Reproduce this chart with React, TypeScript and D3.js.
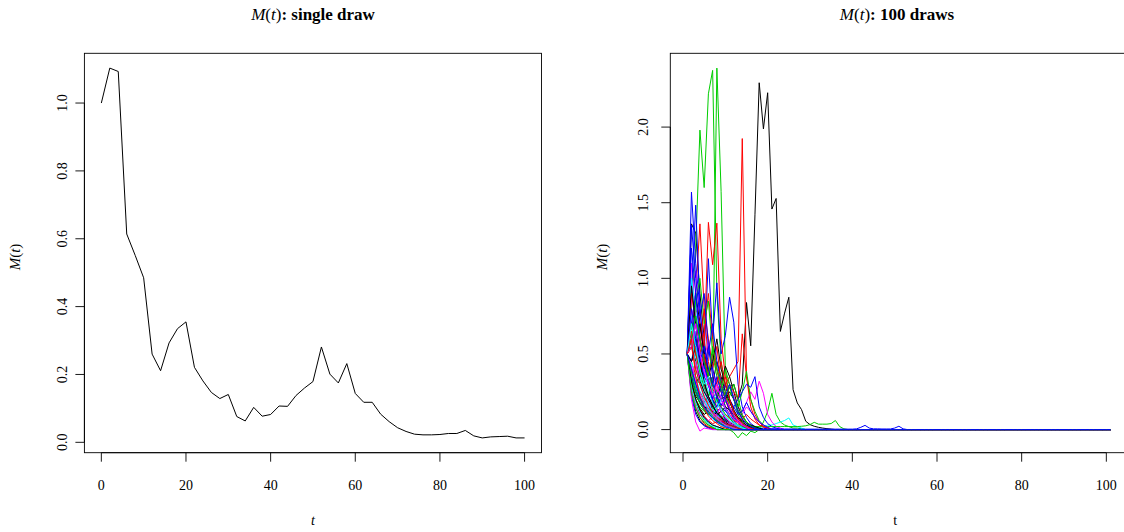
import React from "react";
import * as d3 from "d3";

// ---------- data: single draw (t = 0,2,...,100) ----------
const singleT = d3.range(0, 101, 2);
const singleM = [
  1.0, 1.103, 1.093, 0.614, 0.551, 0.485, 0.26, 0.211, 0.293, 0.335, 0.355,
  0.221, 0.181, 0.147, 0.129, 0.141, 0.076, 0.063, 0.103, 0.077, 0.082,
  0.107, 0.106, 0.138, 0.16, 0.179, 0.281, 0.201, 0.175, 0.232, 0.144,
  0.118, 0.118, 0.083, 0.061, 0.043, 0.032, 0.024, 0.022, 0.022, 0.023,
  0.026, 0.026, 0.035, 0.019, 0.013, 0.016, 0.017, 0.018, 0.013, 0.013,
];

// ---------- data: draws (t = 1..101), values listed until they settle at 0 ----------
const drawT = d3.range(1, 102);
const drawColors = ["#000000", "#FF0000", "#00CD00", "#0000FF", "#00FFFF", "#FF00FF"];

const draws: number[][] = [
  // group 1
  [0.5, 1.36, 1.3, 0.9, 0.6, 0.35, 0.2, 0.12, 0.07, 0.04, 0.02, 0.01],
  [0.5, 0.7, 0.9, 1.36, 0.8, 0.45, 0.25, 0.14, 0.08, 0.04, 0.02, 0.01],
  [0.5, 0.8, 1.2, 1.98, 1.6, 2.22, 2.375, 0.9, 0.45, 0.25, 0.15, 0.09, 0.05, 0.03, 0.015],
  [0.5, 1.57, 1.1, 0.8, 0.5, 0.3, 0.18, 0.1, 0.06, 0.03, 0.015],
  [0.5, 0.97, 0.7, 0.45, 0.28, 0.17, 0.1, 0.06, 0.03, 0.015],
  [0.5, 1.1, 0.75, 0.5, 0.3, 0.2, 0.12, 0.06, 0.03, 0.015],
  // group 2
  [0.5, 0.35, 0.25, 0.2, 0.18, 0.22, 0.3, 0.25, 0.2, 0.22, 0.28, 0.3, 0.2, 0.3, 0.84, 0.554, 1.42, 2.293, 1.988, 2.227, 1.458, 1.528, 0.649, 0.77, 0.875, 0.264, 0.176, 0.132, 0.055, 0.033, 0.022, 0.015, 0.01, 0.006, 0.003],
  [0.5, 0.4, 0.35, 0.3, 0.28, 0.3, 0.35, 0.3, 0.25, 0.3, 0.35, 0.4, 0.45, 1.924, 0.35, 0.15, 0.07, 0.03, 0.015],
  [0.5, 0.6, 0.5, 0.45, 0.4, 0.35, 0.3, 2.39, 1.575, 0.4, 0.2, 0.1, 0.05, 0.025, 0.01],
  [0.5, 0.9, 1.484, 0.8, 0.5, 1.13, 0.6, 0.97, 0.5, 0.62, 0.875, 0.71, 0.3, 0.15, 0.08, 0.04, 0.02, 0.01],
  [0.5, 0.75, 0.55, 0.35, 0.22, 0.14, 0.08, 0.05, 0.03, 0.015],
  [0.5, 0.85, 1.05, 0.7, 0.45, 0.6, 0.4, 0.25, 0.15, 0.08, 0.04, 0.02, 0.01],
  // group 3
  [0.5, 0.6, 0.9, 0.7, 0.5, 0.4, 0.3, 0.45, 0.35, 0.25, 0.18, 0.12, 0.07, 0.04, 0.02, 0.01],
  [0.5, 0.6, 0.8, 0.7, 0.55, 1.37, 1.09, 1.365, 0.6, 0.35, 0.2, 0.12, 0.07, 0.04, 0.02, 0.01],
  [0.5, 0.3, 0.2, 0.15, 0.12, 0.1, 0.08, 0.06, 0.04, 0.02, 0.0, -0.02, -0.055, -0.02, -0.04, -0.01, -0.02, 0.0, 0.05, 0.12, 0.24, 0.1, 0.05, 0.03, 0.02, 0.01, 0.01, 0.005],
  [0.5, 1.2, 0.9, 0.6, 0.4, 0.55, 0.35, 0.2, 0.12, 0.07, 0.04, 0.02, 0.01],
  [0.5, 0.55, 0.65, 0.45, 0.3, 0.2, 0.14, 0.1, 0.08, 0.06, 0.04, 0.05, 0.07, 0.04, 0.03, 0.02, 0.02, 0.015, 0.02, 0.03, 0.03, 0.04, 0.05, 0.06, 0.077, 0.03, 0.02, 0.01],
  [0.5, 0.4, 0.3, 0.22, 0.15, 0.1, 0.12, 0.15, 0.2, 0.25, 0.3, 0.22, 0.15, 0.12, 0.18, 0.25, 0.2, 0.32, 0.24, 0.1, 0.05, 0.02, 0.01],
  // group 4
  [0.5, 0.3, 0.2, 0.14, 0.1, 0.12, 0.16, 0.2, 0.3, 0.42, 0.35, 0.25, 0.15, 0.09, 0.05, 0.03, 0.015],
  [0.5, 0.4, 0.3, 0.25, 0.2, 0.18, 0.2, 0.25, 0.3, 0.35, 0.3, 0.25, 0.2, 0.633, 0.35, 0.2, 0.1, 0.05, 0.02, 0.01],
  [0.5, 0.45, 0.35, 0.3, 0.35, 0.4, 0.3, 0.25, 0.2, 0.25, 0.3, 0.2, 0.15, 0.25, 0.385, 0.2, 0.12, 0.06, 0.03, 0.015],
  [0.5, 0.35, 0.25, 0.2, 0.15, 0.12, 0.1, 0.12, 0.15, 0.12, 0.1, 0.15, 0.2, 0.25, 0.3, 0.28, 0.35, 0.15, 0.08, 0.04, 0.02, 0.01],
  [0.5, 0.6, 0.5, 0.35, 0.25, 0.18, 0.12, 0.08, 0.05, 0.03, 0.02, 0.01],
  [0.5, 0.3, 0.2, 0.12, 0.08, 0.05, 0.03, 0.02, 0.01],
  // group 5
  [0.5, 0.25, 0.12, 0.06, 0.03, 0.015, 0.008],
  [0.5, 0.28, 0.15, 0.08, 0.04, 0.02, 0.01],
  [0.5, 0.3, 0.18, 0.1, 0.06, 0.03, 0.015],
  [0.5, 0.22, 0.1, 0.05, 0.025, 0.01],
  [0.5, 0.32, 0.2, 0.12, 0.07, 0.04, 0.02, 0.01],
  [0.5, 0.2, 0.05, -0.01, 0.01, 0.005],
  // group 6
  [0.5, 0.7, 0.55, 0.4, 0.3, 0.22, 0.16, 0.12, 0.09, 0.07, 0.05, 0.03, 0.02, 0.01],
  [0.5, 0.45, 0.5, 0.6, 0.45, 0.35, 0.5, 0.4, 0.3, 0.22, 0.15, 0.1, 0.06, 0.03, 0.02, 0.01],
  [0.5, 0.4, 0.3, 0.22, 0.16, 0.12, 0.09, 0.07, 0.05, 0.04, 0.03, 0.025, 0.02, 0.02, 0.02, 0.02, 0.02, 0.02, 0.02, 0.02, 0.02, 0.02, 0.02, 0.02, 0.02, 0.02, 0.02, 0.022, 0.025, 0.033, 0.048, 0.036, 0.036, 0.036, 0.04, 0.06, 0.02, 0.005],
  [0.5, 0.35, 0.25, 0.18, 0.13, 0.1, 0.08, 0.06, 0.05, 0.04, 0.03, 0.025, 0.02, 0.015, 0.012, 0.01, 0.01, 0.008, 0.008, 0.006, 0.006, 0.005, 0.005, 0.004, 0.004, 0.004, 0.003, 0.003, 0.003, 0.003, 0.003, 0.003, 0.003, 0.003, 0.003, 0.003, 0.003, 0.003, 0.003, 0.003, 0.005, 0.015, 0.028, 0.01, 0.005, 0.005, 0.004, 0.004, 0.004, 0.01, 0.022, 0.005],
  [0.5, 1.0, 0.8, 0.5, 0.35, 0.25, 0.18, 0.12, 0.08, 0.05, 0.03, 0.02, 0.01],
  [0.5, 0.6, 0.45, 0.35, 0.4, 0.3, 0.2, 0.25, 0.3, 0.2, 0.13, 0.08, 0.05, 0.03, 0.015],
  // group 7
  [0.5, 0.4, 0.3, 0.35, 0.45, 0.35, 0.25, 0.18, 0.15, 0.2, 0.25, 0.2, 0.12, 0.07, 0.04, 0.02, 0.01],
  [0.5, 0.9, 0.7, 0.5, 0.65, 0.9, 0.6, 0.4, 0.25, 0.15, 0.08, 0.04, 0.02, 0.01],
  [0.5, 0.55, 0.85, 1.0, 0.7, 0.85, 0.5, 0.35, 0.25, 0.4, 0.3, 0.2, 0.1, 0.05, 0.025, 0.01],
  [0.5, 0.7, 0.9, 0.6, 0.45, 0.3, 0.2, 0.35, 0.25, 0.15, 0.1, 0.06, 0.03, 0.015],
  [0.5, 0.45, 0.35, 0.25, 0.18, 0.14, 0.1, 0.08, 0.1, 0.06, 0.04, 0.02, 0.01],
  [0.5, 0.8, 0.6, 0.4, 0.28, 0.2, 0.15, 0.18, 0.12, 0.08, 0.05, 0.04, 0.06, 0.1, 0.15, 0.12, 0.08, 0.05, 0.03, 0.015],
  // group 8
  [0.5, 0.55, 0.45, 0.32, 0.25, 0.2, 0.15, 0.11, 0.08, 0.06, 0.04, 0.03, 0.02, 0.01],
  [0.5, 0.35, 0.4, 0.55, 0.8, 0.6, 0.4, 0.55, 0.3, 0.2, 0.12, 0.07, 0.04, 0.02, 0.01],
  [0.5, 0.7, 0.5, 0.38, 0.28, 0.22, 0.3, 0.22, 0.15, 0.18, 0.22, 0.3, 0.2, 0.1, 0.05, 0.025, 0.012],
  [0.5, 1.35, 1.0, 0.75, 0.9, 0.55, 0.4, 0.3, 0.2, 0.13, 0.08, 0.05, 0.03, 0.015],
  [0.5, 0.4, 0.28, 0.2, 0.15, 0.1, 0.07, 0.05, 0.03, 0.02, 0.01],
  [0.5, 0.35, 0.45, 0.3, 0.22, 0.16, 0.12, 0.09, 0.07, 0.05, 0.04, 0.03, 0.02, 0.01],
  // group 9
  [0.5, 0.3, 0.22, 0.18, 0.15, 0.14, 0.12, 0.1, 0.12, 0.15, 0.13, 0.1, 0.08, 0.06, 0.04, 0.03, 0.02, 0.01],
  [0.5, 0.3, 0.2, 0.13, 0.09, 0.06, 0.04, 0.05, 0.07, 0.1, 0.08, 0.06, 0.05, 0.07, 0.1, 0.07, 0.05, 0.03, 0.02, 0.01],
  [0.5, 0.33, 0.24, 0.17, 0.13, 0.1, 0.14, 0.2, 0.15, 0.1, 0.07, 0.05, 0.03, 0.02, 0.01],
  [0.5, 0.45, 0.6, 0.45, 0.35, 0.3, 0.2, 0.15, 0.22, 0.3, 0.2, 0.15, 0.1, 0.12, 0.18, 0.12, 0.08, 0.05, 0.03, 0.015],
  [0.5, 0.65, 0.4, 0.3, 0.2, 0.14, 0.1, 0.14, 0.2, 0.14, 0.09, 0.05, 0.03, 0.015],
  [0.5, 0.25, 0.15, 0.1, 0.08, 0.06, 0.08, 0.1, 0.15, 0.2, 0.15, 0.1, 0.06, 0.04, 0.02, 0.01],
  // group 10
  [0.5, 0.95, 0.7, 0.45, 0.32, 0.22, 0.16, 0.11, 0.08, 0.05, 0.03, 0.02, 0.01],
  [0.5, 0.55, 0.4, 0.3, 0.22, 0.16, 0.11, 0.08, 0.06, 0.04, 0.03, 0.02, 0.01],
  [0.5, 0.38, 0.27, 0.2, 0.15, 0.11, 0.08, 0.06, 0.04, 0.03, 0.02, 0.01],
  [0.5, 0.6, 0.75, 0.5, 0.35, 0.5, 0.7, 0.45, 0.3, 0.2, 0.13, 0.08, 0.05, 0.03, 0.015],
  [0.5, 0.28, 0.18, 0.12, 0.08, 0.05, 0.03, 0.02, 0.01],
  [0.5, 0.42, 0.32, 0.24, 0.18, 0.13, 0.1, 0.07, 0.05, 0.03, 0.02, 0.01],
  // group 11
  [0.5, 0.45, 0.55, 0.7, 0.5, 0.35, 0.45, 0.6, 0.4, 0.3, 0.2, 0.13, 0.08, 0.05, 0.03, 0.015],
  [0.5, 0.65, 0.5, 0.4, 0.5, 0.35, 0.25, 0.3, 0.45, 0.3, 0.2, 0.12, 0.07, 0.04, 0.02, 0.01],
  [0.5, 0.6, 0.75, 0.6, 0.45, 0.35, 0.55, 0.4, 0.3, 0.22, 0.28, 0.2, 0.13, 0.08, 0.05, 0.025, 0.01],
  [0.5, 0.8, 0.6, 0.45, 0.55, 0.4, 0.3, 0.22, 0.16, 0.22, 0.3, 0.2, 0.12, 0.07, 0.04, 0.02, 0.01],
  [0.5, 0.7, 0.55, 0.4, 0.3, 0.35, 0.25, 0.18, 0.13, 0.09, 0.06, 0.04, 0.02, 0.01],
  [0.5, 0.55, 0.7, 0.5, 0.38, 0.3, 0.22, 0.3, 0.2, 0.14, 0.1, 0.07, 0.05, 0.03, 0.015],
  // group 12
  [0.5, 0.32, 0.2, 0.13, 0.08, 0.05, 0.03, 0.02, 0.01],
  [0.5, 0.6, 0.35, 0.22, 0.14, 0.09, 0.06, 0.04, 0.02, 0.01],
  [0.5, 0.24, 0.14, 0.08, 0.05, 0.03, 0.015],
  [0.5, 0.4, 0.3, 0.21, 0.15, 0.11, 0.08, 0.05, 0.035, 0.02, 0.01],
];

const xTicks = [0, 20, 40, 60, 80, 100];
const leftYTicks = [0, 0.2, 0.4, 0.6, 0.8, 1.0];
const rightYTicks = [0, 0.5, 1.0, 1.5, 2.0];

// ---------- layout ----------
const W = 1124;
const H = 532;
const FONT = "'Liberation Serif', 'DejaVu Serif', serif";
const BOX_TOP = 53.3;
const BOX_BOTTOM = 452.7;

function padDomain(lo: number, hi: number): [number, number] {
  const r = hi - lo;
  return [lo - 0.04 * r, hi + 0.04 * r];
}

function MathM({ x, y, rotate, size }: { x: number; y: number; rotate?: boolean; size: number }) {
  return (
    <text
      x={x}
      y={y}
      fontSize={size}
      fontFamily={FONT}
      textAnchor="middle"
      transform={rotate ? `rotate(-90 ${x} ${y})` : undefined}
    >
      <tspan fontStyle="italic">M</tspan>
      <tspan>(</tspan>
      <tspan fontStyle="italic">t</tspan>
      <tspan>)</tspan>
    </text>
  );
}

type PanelProps = {
  x0: number;
  x1: number;
  xDomain: [number, number];
  yDomain: [number, number];
  yTicks: number[];
  yFmt: (v: number) => string;
  yLabX: number;
  yTitleX: number;
  titleX: number;
  title: string;
  italicT: boolean;
  children: (x: d3.ScaleLinear<number, number>, y: d3.ScaleLinear<number, number>) => React.ReactNode;
};

function Panel(p: PanelProps) {
  const x = d3.scaleLinear().domain(p.xDomain).range([p.x0, p.x1]);
  const y = d3.scaleLinear().domain(p.yDomain).range([BOX_BOTTOM, BOX_TOP]);
  const tickLen = 9;
  return (
    <g>
      {/* title */}
      <text x={p.titleX} y={20} fontSize={17} fontFamily={FONT} textAnchor="middle" fontWeight="bold">
        <tspan fontStyle="italic" fontWeight="normal">M</tspan>
        <tspan fontWeight="normal">(</tspan>
        <tspan fontStyle="italic" fontWeight="normal">t</tspan>
        <tspan fontWeight="normal">)</tspan>
        <tspan>{": " + p.title}</tspan>
      </text>
      {/* data */}
      <g>{p.children(x, y)}</g>
      {/* box */}
      <rect
        x={p.x0}
        y={BOX_TOP}
        width={p.x1 - p.x0}
        height={BOX_BOTTOM - BOX_TOP}
        fill="none"
        stroke="#000"
        strokeWidth={0.9}
      />
      {/* x axis */}
      <line x1={x(xTicks[0])} x2={x(xTicks[xTicks.length - 1])} y1={BOX_BOTTOM} y2={BOX_BOTTOM} stroke="#000" strokeWidth={0.9} />
      {xTicks.map((t) => (
        <g key={"xt" + t}>
          <line x1={x(t)} x2={x(t)} y1={BOX_BOTTOM} y2={BOX_BOTTOM + tickLen} stroke="#000" strokeWidth={0.9} />
          <text x={x(t)} y={490} fontSize={14} fontFamily={FONT} textAnchor="middle">
            {t}
          </text>
        </g>
      ))}
      <text
        x={(p.x0 + Math.min(p.x1, W)) / 2 + (p.italicT ? 0 : -2)}
        y={525}
        fontSize={14}
        fontFamily={FONT}
        textAnchor="middle"
        fontStyle={p.italicT ? "italic" : "normal"}
      >
        t
      </text>
      {/* y axis */}
      <line x1={p.x0} x2={p.x0} y1={y(p.yTicks[0])} y2={y(p.yTicks[p.yTicks.length - 1])} stroke="#000" strokeWidth={0.9} />
      {p.yTicks.map((v) => (
        <g key={"yt" + v}>
          <line x1={p.x0 - tickLen} x2={p.x0} y1={y(v)} y2={y(v)} stroke="#000" strokeWidth={0.9} />
          <text
            x={p.yLabX}
            y={y(v)}
            fontSize={14}
            fontFamily={FONT}
            textAnchor="middle"
            dominantBaseline="central"
            transform={`rotate(-90 ${p.yLabX} ${y(v)})`}
          >
            {p.yFmt(v)}
          </text>
        </g>
      ))}
      <MathM x={p.yTitleX} y={(BOX_TOP + BOX_BOTTOM) / 2 + 4} rotate size={15} />
    </g>
  );
}

export default function App() {
  const single = singleT.map((t, i) => [t, singleM[i]] as [number, number]);
  const leftX = padDomain(d3.min(singleT)!, d3.max(singleT)!);
  const leftY = padDomain(d3.min(singleM)!, d3.max(singleM)!);

  const series = draws.map((vals) => drawT.map((t, i) => [t, i < vals.length ? vals[i] : 0] as [number, number]));
  const allVals = draws.flat();
  const rightX = padDomain(d3.min(drawT)!, d3.max(drawT)!);
  const rightY = padDomain(Math.min(0, d3.min(allVals)!), d3.max(allVals)!);

  const fmt = d3.format(".1f");

  return (
    <svg width={W} height={H} style={{ position: "absolute", left: 0, top: 0, background: "#fff" }}>
      <rect x={0} y={0} width={W} height={H} fill="#fff" />
      <Panel
        x0={84.4}
        x1={541.5}
        xDomain={leftX}
        yDomain={leftY}
        yTicks={leftYTicks}
        yFmt={fmt}
        yLabX={63}
        yTitleX={20}
        titleX={313}
        title="single draw"
        italicT={true}
      >
        {(x, y) => {
          const line = d3.line<[number, number]>().x((d) => x(d[0])).y((d) => y(d[1]));
          return <path d={line(single) || ""} fill="none" stroke="#000" strokeWidth={1} />;
        }}
      </Panel>
      <Panel
        x0={670.3}
        x1={1127.5}
        xDomain={rightX}
        yDomain={rightY}
        yTicks={rightYTicks}
        yFmt={fmt}
        yLabX={644}
        yTitleX={607}
        titleX={897}
        title="100 draws"
        italicT={false}
      >
        {(x, y) => {
          const line = d3.line<[number, number]>().x((d) => x(d[0])).y((d) => y(d[1]));
          return series.map((s, i) => (
            <path key={i} d={line(s) || ""} fill="none" stroke={drawColors[i % 6]} strokeWidth={1} />
          ));
        }}
      </Panel>
    </svg>
  );
}
